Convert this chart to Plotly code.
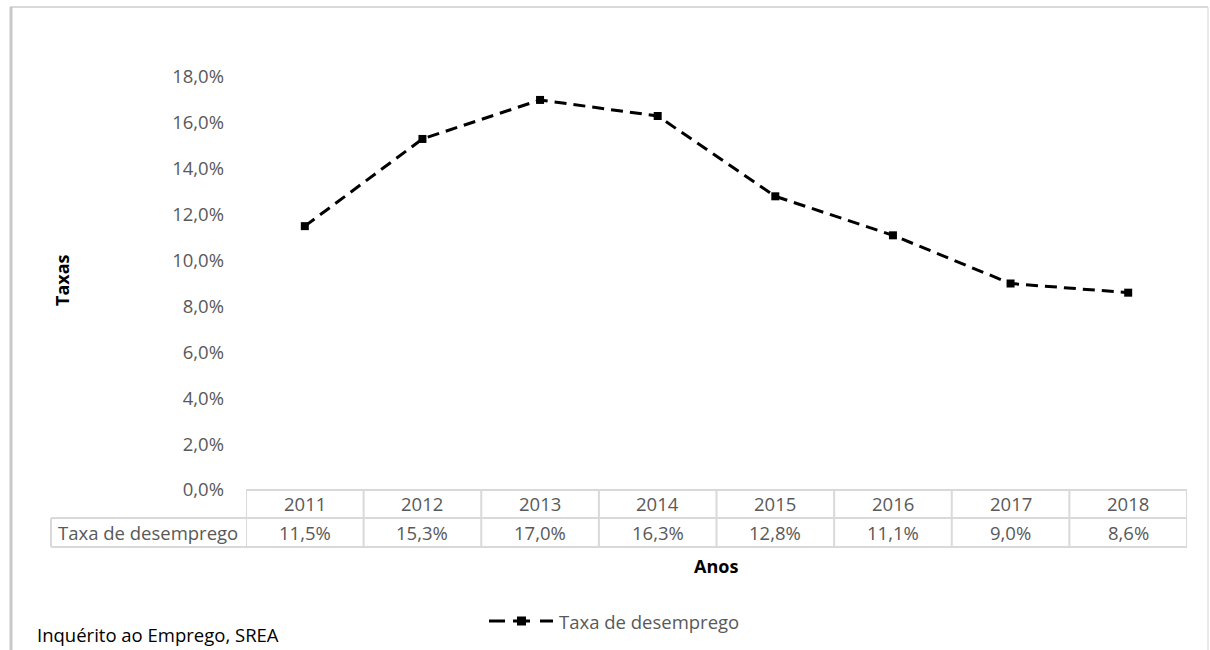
import plotly.graph_objects as go

# Unemployment rate by year
anos = ["2011", "2012", "2013", "2014", "2015", "2016", "2017", "2018"]
taxa_desemprego = [11.5, 15.3, 17.0, 16.3, 12.8, 11.1, 9.0, 8.6]
serie_nome = "Taxa de desemprego"
y_ticks = [0, 2, 4, 6, 8, 10, 12, 14, 16, 18]

W, H = 1210, 650
L, R, T, B = 246, 23, 77, 160
PW, PH = W - L - R, H - T - B

FONT = "Open Sans"
GREY_TXT = "#595959"
GRID = "#d9d9d9"
FS = 18.5


def px_x(px):
    return (px - L) / PW


def px_y(py):
    return (H - B - py) / PH


def fmt(v):
    return f"{v:.1f}".replace(".", ",") + "%"


x_idx = list(range(len(anos)))

fig = go.Figure()
fig.add_trace(go.Scatter(
    x=x_idx, y=taxa_desemprego, name=serie_nome, mode="lines+markers",
    line=dict(color="black", width=3, dash="12px,7px"),
    marker=dict(symbol="square", size=8, color="black"),
    showlegend=False,
))

shapes = []
annotations = []


def label(x, y, text, xref="paper", yref="paper", xanchor="center", **kw):
    annotations.append(dict(x=x, y=y, xref=xref, yref=yref, text=text, showarrow=False,
                            xanchor=xanchor, yanchor="middle", **kw))


# data table rows below the plot
row1_top, row1_bot, row2_bot = 490, 518, 547
line_style = dict(color=GRID, width=2)
shapes.append(dict(type="line", xref="x", yref="paper", x0=-0.5, x1=len(anos) - 0.5,
                   y0=px_y(row1_top), y1=px_y(row1_top), line=line_style))
for yy in (row1_bot, row2_bot):
    shapes.append(dict(type="line", xref="paper", yref="paper", x0=px_x(51), x1=1,
                       y0=px_y(yy), y1=px_y(yy), line=line_style))
for k in range(len(anos) + 1):
    shapes.append(dict(type="line", xref="x", yref="paper", x0=k - 0.5, x1=k - 0.5,
                       y0=px_y(row1_top), y1=px_y(row2_bot), line=line_style))
shapes.append(dict(type="line", xref="paper", yref="paper", x0=px_x(51), x1=px_x(51),
                   y0=px_y(row1_bot), y1=px_y(row2_bot), line=line_style))

cell_font = dict(size=FS, color=GREY_TXT, family=FONT)
for i, (a, v) in enumerate(zip(anos, taxa_desemprego)):
    label(i, px_y((row1_top + row1_bot) / 2), a, xref="x", font=cell_font)
    label(i, px_y((row1_bot + row2_bot) / 2), fmt(v), xref="x", font=cell_font)
label(px_x(148), px_y((row1_bot + row2_bot) / 2), serie_nome, font=cell_font)

# axis titles
title_font = dict(size=18, color="black", family=FONT)
label(px_x(716), px_y(566), "<b>Anos</b>", font=title_font)
label(px_x(62), px_y(280), "<b>Taxas</b>", textangle=-90, font=title_font)

# source note
label(px_x(35), px_y(634), "Inquérito ao Emprego, SREA", xanchor="left",
      font=dict(size=FS, color="black", family=FONT))

# legend: dash, square marker, dash, then the series name
leg_y = px_y(621)
for x0, x1 in ((489, 505), (540, 553)):
    shapes.append(dict(type="line", xref="paper", yref="paper", x0=px_x(x0), x1=px_x(x1),
                       y0=leg_y, y1=leg_y, line=dict(color="black", width=3)))
shapes.append(dict(type="rect", xref="paper", yref="paper", x0=px_x(517), x1=px_x(526),
                   y0=px_y(625.5), y1=px_y(616.5), fillcolor="black", line=dict(width=0)))
shapes.append(dict(type="line", xref="paper", yref="paper", x0=px_x(513), x1=px_x(530),
                   y0=leg_y, y1=leg_y, line=dict(color="black", width=3)))
label(px_x(557), leg_y, serie_nome, xanchor="left", font=cell_font)

# chart frame
shapes.append(dict(type="line", xref="paper", yref="paper", x0=px_x(10), x1=px_x(1208),
                   y0=px_y(7), y1=px_y(7), line=dict(color="#d9d9d9", width=2)))
shapes.append(dict(type="line", xref="paper", yref="paper", x0=px_x(11), x1=px_x(11),
                   y0=px_y(7), y1=px_y(650), line=dict(color="#c8c8c8", width=3)))
shapes.append(dict(type="line", xref="paper", yref="paper", x0=px_x(1208), x1=px_x(1208),
                   y0=px_y(7), y1=px_y(650), line=dict(color="#e3e3e3", width=1.5)))

fig.update_layout(
    width=W, height=H,
    margin=dict(l=L, r=R, t=T, b=B, autoexpand=False),
    paper_bgcolor="white", plot_bgcolor="white",
    font=dict(family=FONT, color=GREY_TXT, size=FS),
    showlegend=False,
    xaxis=dict(range=[-0.5, len(anos) - 0.5], showticklabels=False, showgrid=False,
               zeroline=False, showline=False, ticks=""),
    yaxis=dict(range=[0, 18], tickvals=y_ticks, ticktext=[fmt(v) for v in y_ticks],
               showgrid=False, zeroline=False, showline=False, ticks="",
               ticklabelstandoff=21, tickfont=dict(size=FS, color=GREY_TXT, family=FONT)),
    shapes=shapes,
    annotations=annotations,
)

fig.write_html("out.html")
